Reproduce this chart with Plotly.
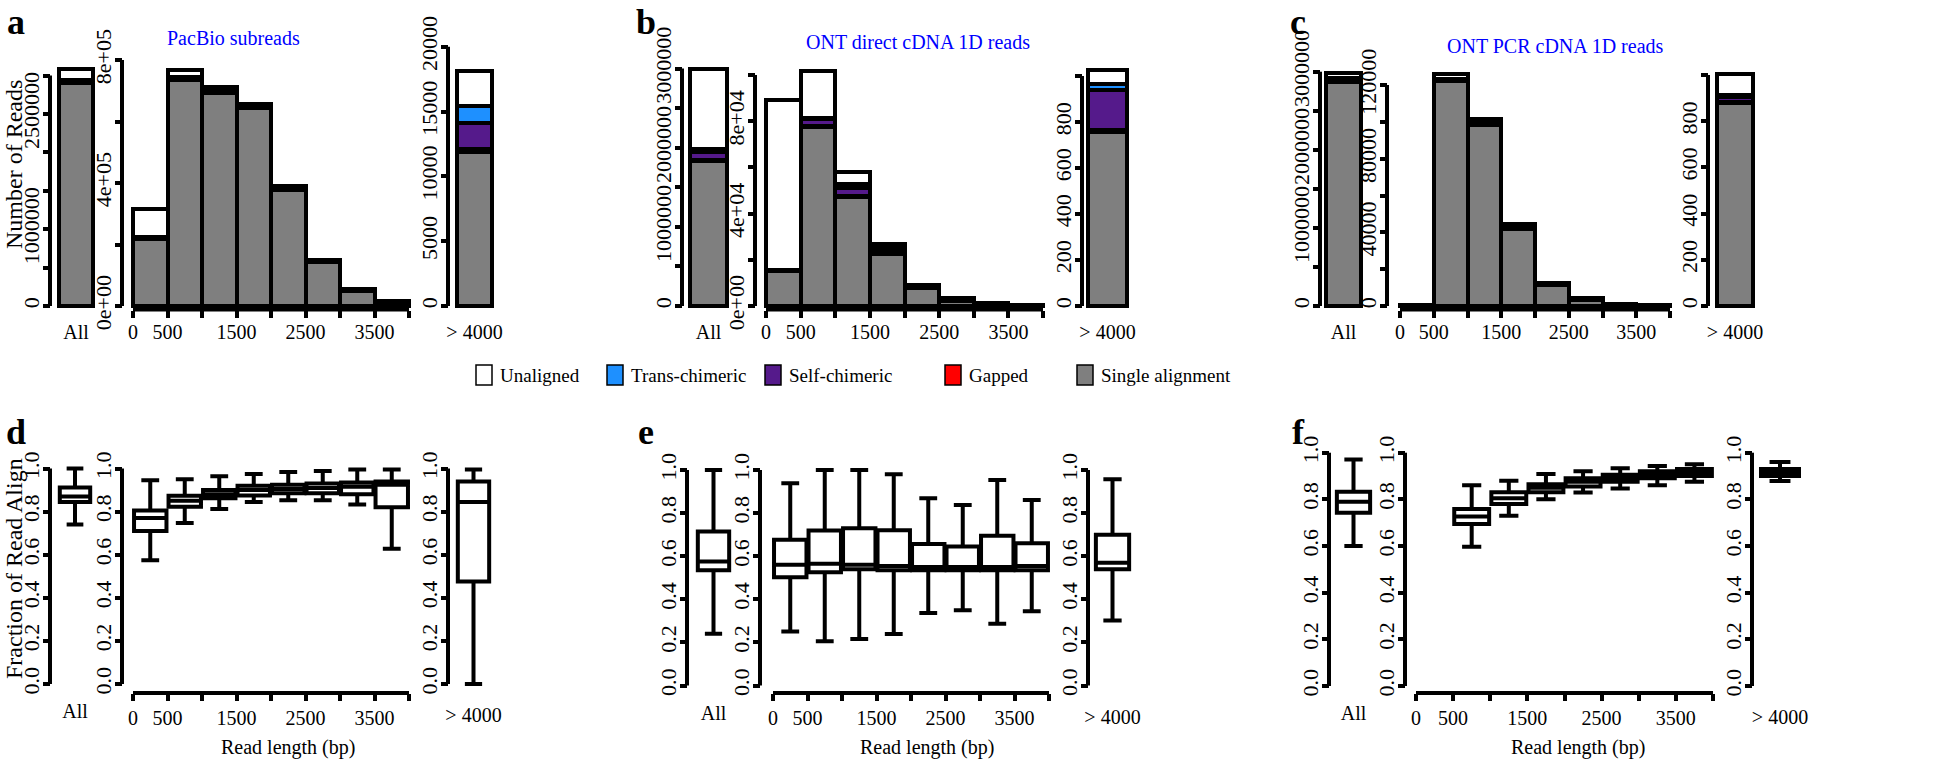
import plotly.graph_objects as go

W, H = 1944, 769

# ---------------- data ----------------
categories = ["Single alignment", "Gapped", "Self-chimeric", "Trans-chimeric", "Unaligned"]
cat_colors = ["#7F7F7F", "#FF0000", "#551A8B", "#1E90FF", "#FFFFFF"]
legend_order = ["Unaligned", "Trans-chimeric", "Self-chimeric", "Gapped", "Single alignment"]

bin_centers = [250, 750, 1250, 1750, 2250, 2750, 3250, 3750]
length_ticks = [0, 500, 1000, 1500, 2000, 2500, 3000, 3500, 4000]
length_ticktext = ["0", "500", "", "1500", "", "2500", "", "3500", ""]

# a: PacBio subreads (order: single, gapped, self, trans, unaligned)
pacbio_all = [2900000, 10000, 20000, 10000, 140000]
pacbio_single = [218000, 736000, 692000, 643000, 376000, 143000, 48000, 10000]
pacbio_gapped = [2000, 2000, 2000, 2000, 2000, 1000, 1000, 500]
pacbio_self = [4000, 4000, 8000, 6000, 6000, 3000, 2000, 1500]
pacbio_trans = [2000, 2000, 3000, 2000, 2000, 1000, 1000, 500]
pacbio_unal = [88000, 22000, 7000, 4000, 4000, 3000, 3000, 2500]
pacbio_gt4000 = [11850, 250, 2000, 1300, 2750]

# b: ONT direct cDNA 1D reads
direct_all = [1830000, 10000, 100000, 40000, 1020000]
direct_single = [15000, 77500, 47000, 22600, 7800, 2300, 800, 250]
direct_gapped = [200, 300, 500, 500, 200, 100, 50, 20]
direct_self = [400, 3000, 3800, 1500, 500, 300, 150, 60]
direct_trans = [200, 800, 1500, 600, 200, 100, 50, 20]
direct_unal = [73200, 20000, 5000, 1450, 560, 680, 150, 50]
direct_gt4000 = [755, 10, 175, 25, 60]

# c: ONT PCR cDNA 1D reads
pcr_all = [2870000, 5000, 30000, 10000, 65000]
pcr_single = [300, 122000, 98500, 42000, 11300, 3300, 800, 500]
pcr_gapped = [5, 300, 300, 200, 100, 50, 20, 10]
pcr_self = [20, 600, 1000, 800, 400, 300, 100, 60]
pcr_trans = [5, 200, 300, 200, 100, 60, 30, 20]
pcr_unal = [50, 3100, 1500, 1150, 650, 650, 150, 110]
pcr_gt4000 = [878, 5, 22, 7, 94]

# y tick specs (top row)
all_tickvals = [0, 500000, 1000000, 1500000, 2000000, 2500000, 3000000]
a_all_ticktext = ["0", "", "1000000", "", "", "2500000", ""]
bc_all_ticktext = ["0", "", "1000000", "", "2000000", "", "3000000"]
a_mid_tickvals = [0, 200000, 400000, 600000, 800000]
a_mid_ticktext = ["0e+00", "", "4e+05", "", "8e+05"]
a_gt_tickvals = [0, 5000, 10000, 15000, 20000]
a_gt_ticktext = ["0", "5000", "10000", "15000", "20000"]
b_mid_tickvals = [0, 20000, 40000, 60000, 80000, 100000]
b_mid_ticktext = ["0e+00", "", "4e+04", "", "8e+04", ""]
c_mid_tickvals = [0, 20000, 40000, 60000, 80000, 100000, 120000]
c_mid_ticktext = ["0", "", "40000", "", "80000", "", "120000"]
gt_small_tickvals = [0, 200, 400, 600, 800, 1000]
gt_small_ticktext = ["0", "200", "400", "600", "800", ""]

frac_tickvals = [0, 0.2, 0.4, 0.6, 0.8, 1.0]
frac_ticktext = ["0.0", "0.2", "0.4", "0.6", "0.8", "1.0"]

# d: PacBio fraction aligned (lower whisker, q1, median, q3, upper whisker)
d_all = [0.74, 0.845, 0.87, 0.912, 1.0]
d_lo = [0.574, 0.747, 0.812, 0.845, 0.853, 0.853, 0.833, 0.628]
d_q1 = [0.71, 0.823, 0.862, 0.875, 0.885, 0.885, 0.88, 0.82]
d_med = [0.77, 0.85, 0.88, 0.90, 0.905, 0.91, 0.915, 0.925]
d_q3 = [0.805, 0.874, 0.90, 0.92, 0.925, 0.93, 0.935, 0.94]
d_hi = [0.946, 0.95, 0.964, 0.974, 0.984, 0.988, 0.995, 0.995]
d_gt4000 = [0.0, 0.476, 0.845, 0.94, 0.995]

# e: ONT direct cDNA fraction aligned
e_all = [0.24, 0.535, 0.575, 0.715, 1.0]
e_lo = [0.25, 0.205, 0.216, 0.239, 0.336, 0.349, 0.287, 0.344]
e_q1 = [0.502, 0.525, 0.54, 0.535, 0.535, 0.535, 0.535, 0.535]
e_med = [0.56, 0.565, 0.56, 0.555, 0.55, 0.55, 0.55, 0.555]
e_q3 = [0.676, 0.719, 0.73, 0.72, 0.657, 0.645, 0.695, 0.66]
e_hi = [0.938, 1.0, 1.0, 0.98, 0.869, 0.838, 0.954, 0.861]
e_gt4000 = [0.302, 0.54, 0.57, 0.70, 0.957]

# f: ONT PCR cDNA fraction aligned (no reads in first bin)
f_all = [0.60, 0.743, 0.79, 0.833, 0.971]
f_lo = [None, 0.597, 0.73, 0.80, 0.829, 0.847, 0.861, 0.876]
f_q1 = [None, 0.694, 0.78, 0.83, 0.855, 0.875, 0.89, 0.90]
f_med = [None, 0.726, 0.805, 0.85, 0.875, 0.89, 0.905, 0.915]
f_q3 = [None, 0.759, 0.83, 0.865, 0.89, 0.905, 0.92, 0.93]
f_hi = [None, 0.861, 0.88, 0.909, 0.921, 0.933, 0.943, 0.95]
f_gt4000 = [0.879, 0.90, 0.915, 0.93, 0.96]

titles = ["PacBio subreads", "ONT direct cDNA 1D reads", "ONT PCR cDNA 1D reads"]

# ---------------- layout geometry (pixels) ----------------
FONT = "Liberation Serif, Times New Roman, serif"
TOP_ZERO, TOP_DOM = 306.0, (312.0, 36.0)
TOP_XAXIS_PY = 309.5
BOT_XAXIS_PY = 693.0

fig = go.Figure()
layout = dict()
shapes = []
annotations = []
counter = [0]


def new_axes():
    counter[0] += 1
    k = counter[0]
    return k, ("x" if k == 1 else "x%d" % k), ("y" if k == 1 else "y%d" % k)


def ymap(zero_px, top_px, top_val, dom):
    s = top_val / (zero_px - top_px)
    rng = [(zero_px - dom[0]) * s, (zero_px - dom[1]) * s]
    return rng, [1 - dom[0] / H, 1 - dom[1] / H]


def yaxis_cfg(rng, dom, ax_px, tickvals, ticktext):
    return dict(domain=dom, range=rng, anchor="free", position=ax_px / W,
                tickmode="array", tickvals=tickvals, ticktext=ticktext,
                tickangle=-90, ticks="outside", ticklen=7, tickwidth=4,
                tickcolor="black", showline=False, showgrid=False,
                zeroline=False, automargin=False, ticklabelstandoff=-5,
                tickfont=dict(family=FONT, size=22, color="black"))


def single_x(x0_px, x1_px, label, axis_py, pad=7, standoff=0):
    s = 1.0 / (x1_px - x0_px)
    return dict(domain=[(x0_px - pad) / W, (x1_px + pad) / W],
                range=[-0.5 - pad * s, 0.5 + pad * s], anchor="free",
                position=1 - axis_py / H, tickmode="array", tickvals=[0],
                ticktext=[label], ticks="outside", ticklen=7,
                tickcolor="rgba(0,0,0,0)", showline=False, showgrid=False,
                zeroline=False, automargin=False, ticklabelstandoff=standoff,
                tickfont=dict(family=FONT, size=20, color="black"))


def bins_x(q0, q1, axis_py, pad=8, standoff=0):
    s = 4000.0 / (q1 - q0)
    return dict(domain=[(q0 - pad) / W, (q1 + pad) / W],
                range=[-pad * s, 4000 + pad * s], anchor="free",
                position=1 - axis_py / H, tickmode="array",
                tickvals=length_ticks, ticktext=length_ticktext,
                ticks="outside", ticklen=7, tickwidth=4, tickcolor="black",
                showline=False, showgrid=False, zeroline=False,
                automargin=False, ticklabelstandoff=standoff,
                tickfont=dict(family=FONT, size=20, color="black"))


def add_yline(yname, ax_px, top_val):
    shapes.append(dict(type="line", xref="paper", yref=yname, x0=ax_px / W,
                       x1=ax_px / W, y0=0, y1=top_val,
                       line=dict(color="black", width=4)))


def add_xline(xname, axis_py):
    shapes.append(dict(type="line", xref=xname, yref="paper", x0=0, x1=4000,
                       y0=1 - axis_py / H, y1=1 - axis_py / H,
                       line=dict(color="black", width=4)))


def add_stack(xn, yn, xs, series, width):
    for name, color, vals in zip(categories, cat_colors, series):
        fig.add_trace(go.Bar(x=xs, y=vals, width=width, xaxis=xn, yaxis=yn,
                             marker=dict(color=color,
                                         line=dict(color="black", width=4)),
                             name=name, showlegend=False))


def add_box(xn, yn, xs, lo, q1, med, q3, hi, width):
    fig.add_trace(go.Box(x=xs, lowerfence=lo, q1=q1, median=med, q3=q3,
                         upperfence=hi, width=width, xaxis=xn, yaxis=yn,
                         fillcolor="white", whiskerwidth=0.55,
                         line=dict(color="black", width=4),
                         boxpoints=False, showlegend=False))


def setax(k, xcfg, ycfg):
    layout["xaxis" if k == 1 else "xaxis%d" % k] = xcfg
    layout["yaxis" if k == 1 else "yaxis%d" % k] = ycfg


# ---------- top row: read counts ----------
top_panels = [
    dict(all_vals=pacbio_all,
         mid=[pacbio_single, pacbio_gapped, pacbio_self, pacbio_trans, pacbio_unal],
         gt=pacbio_gt4000,
         all_geo=(50, 59, 93, 75.5), mid_geo=(122, 133, 409, 60.0), gt_geo=(448, 457, 492, 46.7),
         all_ticks=(all_tickvals, a_all_ticktext), mid_ticks=(a_mid_tickvals, a_mid_ticktext),
         gt_ticks=(a_gt_tickvals, a_gt_ticktext)),
    dict(all_vals=direct_all,
         mid=[direct_single, direct_gapped, direct_self, direct_trans, direct_unal],
         gt=direct_gt4000,
         all_geo=(682, 690, 727, 68.5), mid_geo=(755, 766, 1043, 75.0), gt_geo=(1082, 1088, 1127, 76.0),
         all_ticks=(all_tickvals, bc_all_ticktext), mid_ticks=(b_mid_tickvals, b_mid_ticktext),
         gt_ticks=(gt_small_tickvals, gt_small_ticktext)),
    dict(all_vals=pcr_all,
         mid=[pcr_single, pcr_gapped, pcr_self, pcr_trans, pcr_unal],
         gt=pcr_gt4000,
         all_geo=(1320, 1326, 1361, 71.7), mid_geo=(1387, 1400, 1670, 85.0), gt_geo=(1708, 1717, 1753, 75.0),
         all_ticks=(all_tickvals, bc_all_ticktext), mid_ticks=(c_mid_tickvals, c_mid_ticktext),
         gt_ticks=(gt_small_tickvals, gt_small_ticktext)),
]

for p in top_panels:
    # All
    k, xn, yn = new_axes()
    ax, x0, x1, tp = p["all_geo"]
    tv, tt = p["all_ticks"]
    rng, dom = ymap(TOP_ZERO, tp, tv[-1], TOP_DOM)
    setax(k, single_x(x0, x1, "All", TOP_XAXIS_PY, standoff=-3), yaxis_cfg(rng, dom, ax, tv, tt))
    add_stack(xn, yn, [0], [[v] for v in p["all_vals"]], 1)
    add_yline(yn, ax, tv[-1])
    # binned
    k, xn, yn = new_axes()
    ax, q0, q1, tp = p["mid_geo"]
    tv, tt = p["mid_ticks"]
    rng, dom = ymap(TOP_ZERO, tp, tv[-1], TOP_DOM)
    setax(k, bins_x(q0, q1, TOP_XAXIS_PY, standoff=-3), yaxis_cfg(rng, dom, ax, tv, tt))
    add_stack(xn, yn, bin_centers, p["mid"], 500)
    add_yline(yn, ax, tv[-1])
    add_xline(xn, TOP_XAXIS_PY)
    # > 4000
    k, xn, yn = new_axes()
    ax, x0, x1, tp = p["gt_geo"]
    tv, tt = p["gt_ticks"]
    rng, dom = ymap(TOP_ZERO, tp, tv[-1], TOP_DOM)
    setax(k, single_x(x0, x1, "> 4000", TOP_XAXIS_PY, standoff=-3), yaxis_cfg(rng, dom, ax, tv, tt))
    add_stack(xn, yn, [0], [[v] for v in p["gt"]], 1)
    add_yline(yn, ax, tv[-1])

# ---------- bottom row: fraction aligned ----------
bottom_panels = [
    dict(all_box=d_all, lo=d_lo, q1=d_q1, med=d_med, q3=d_q3, hi=d_hi, gt_box=d_gt4000,
         zero=684.0, one=468.5, dom=(690.0, 440.0),
         all_geo=(50, 59, 91), mid_geo=(122, 133, 409), gt_geo=(448, 457, 490)),
    dict(all_box=e_all, lo=e_lo, q1=e_q1, med=e_med, q3=e_q3, hi=e_hi, gt_box=e_gt4000,
         zero=685.5, one=470.0, dom=(690.0, 440.0),
         all_geo=(687, 697, 730), mid_geo=(760, 773, 1049), gt_geo=(1088, 1095, 1130)),
    dict(all_box=f_all, lo=f_lo, q1=f_q1, med=f_med, q3=f_q3, hi=f_hi, gt_box=f_gt4000,
         zero=686.0, one=452.7, dom=(690.0, 430.0),
         all_geo=(1329, 1336, 1371), mid_geo=(1405, 1416, 1713), gt_geo=(1752, 1760, 1800)),
]

for p in bottom_panels:
    rng, dom = ymap(p["zero"], p["one"], 1.0, p["dom"])
    side_py = p["zero"] + 2
    # All
    k, xn, yn = new_axes()
    ax, x0, x1 = p["all_geo"]
    setax(k, single_x(x0, x1, "All", side_py), yaxis_cfg(rng, dom, ax, frac_tickvals, frac_ticktext))
    b = p["all_box"]
    add_box(xn, yn, [0], [b[0]], [b[1]], [b[2]], [b[3]], [b[4]], 0.95)
    add_yline(yn, ax, 1.0)
    # binned
    k, xn, yn = new_axes()
    ax, q0, q1 = p["mid_geo"]
    setax(k, bins_x(q0, q1, BOT_XAXIS_PY), yaxis_cfg(rng, dom, ax, frac_tickvals, frac_ticktext))
    keep = [i for i in range(len(bin_centers)) if p["med"][i] is not None]
    add_box(xn, yn, [bin_centers[i] for i in keep], [p["lo"][i] for i in keep],
            [p["q1"][i] for i in keep], [p["med"][i] for i in keep],
            [p["q3"][i] for i in keep], [p["hi"][i] for i in keep], 470)
    add_yline(yn, ax, 1.0)
    add_xline(xn, BOT_XAXIS_PY)
    # > 4000
    k, xn, yn = new_axes()
    ax, x0, x1 = p["gt_geo"]
    setax(k, single_x(x0, x1, "> 4000", side_py + 4), yaxis_cfg(rng, dom, ax, frac_tickvals, frac_ticktext))
    b = p["gt_box"]
    add_box(xn, yn, [0], [b[0]], [b[1]], [b[2]], [b[3]], [b[4]], 0.95)
    add_yline(yn, ax, 1.0)


# ---------- annotations ----------
def text(x_px, y_px, s, size, color="black", angle=0, bold=False, xanchor="center"):
    annotations.append(dict(x=x_px / W, y=1 - y_px / H, xref="paper", yref="paper",
                            text=("<b>%s</b>" % s) if bold else s, showarrow=False,
                            xanchor=xanchor, yanchor="middle", textangle=angle,
                            font=dict(family=FONT, size=size, color=color)))


for letter, (lx, ly) in zip("abcdef", [(16, 22), (646, 22), (1298, 22),
                                       (16, 432), (646, 432), (1298, 432)]):
    text(lx, ly, letter, 36, bold=True)

for t, (tx, ty) in zip(titles, [(233, 38), (918, 42), (1555, 46)]):
    text(tx, ty, t, 20, color="#0000FF")

text(14, 165, "Number of Reads", 24, angle=-90)
text(14, 569, "Fraction of Read Align", 24, angle=-90)
for cx in [288, 927, 1578]:
    text(cx, 747, "Read length (bp)", 20)

# ---------- manual legend ----------
legend_px = [476, 607, 765, 945, 1077]
LEG_Y = 375
for name, lx in zip(legend_order, legend_px):
    col = cat_colors[categories.index(name)]
    shapes.append(dict(type="rect", xref="paper", yref="paper",
                       x0=lx / W, x1=(lx + 16) / W,
                       y0=1 - (LEG_Y + 10) / H, y1=1 - (LEG_Y - 10) / H,
                       fillcolor=col, line=dict(color="black", width=1.5)))
    text(lx + 22, LEG_Y, name, 19, xanchor="left")

fig.update_layout(**layout)
fig.update_layout(width=W, height=H, margin=dict(l=0, r=0, t=0, b=0),
                  paper_bgcolor="white", plot_bgcolor="white",
                  barmode="stack", bargap=0, showlegend=False,
                  shapes=shapes, annotations=annotations,
                  font=dict(family=FONT, color="black"))

fig.write_html("out.html", config={"displayModeBar": False},
               post_script="document.body.style.margin='0px';"
                           "document.body.style.overflow='hidden';")
